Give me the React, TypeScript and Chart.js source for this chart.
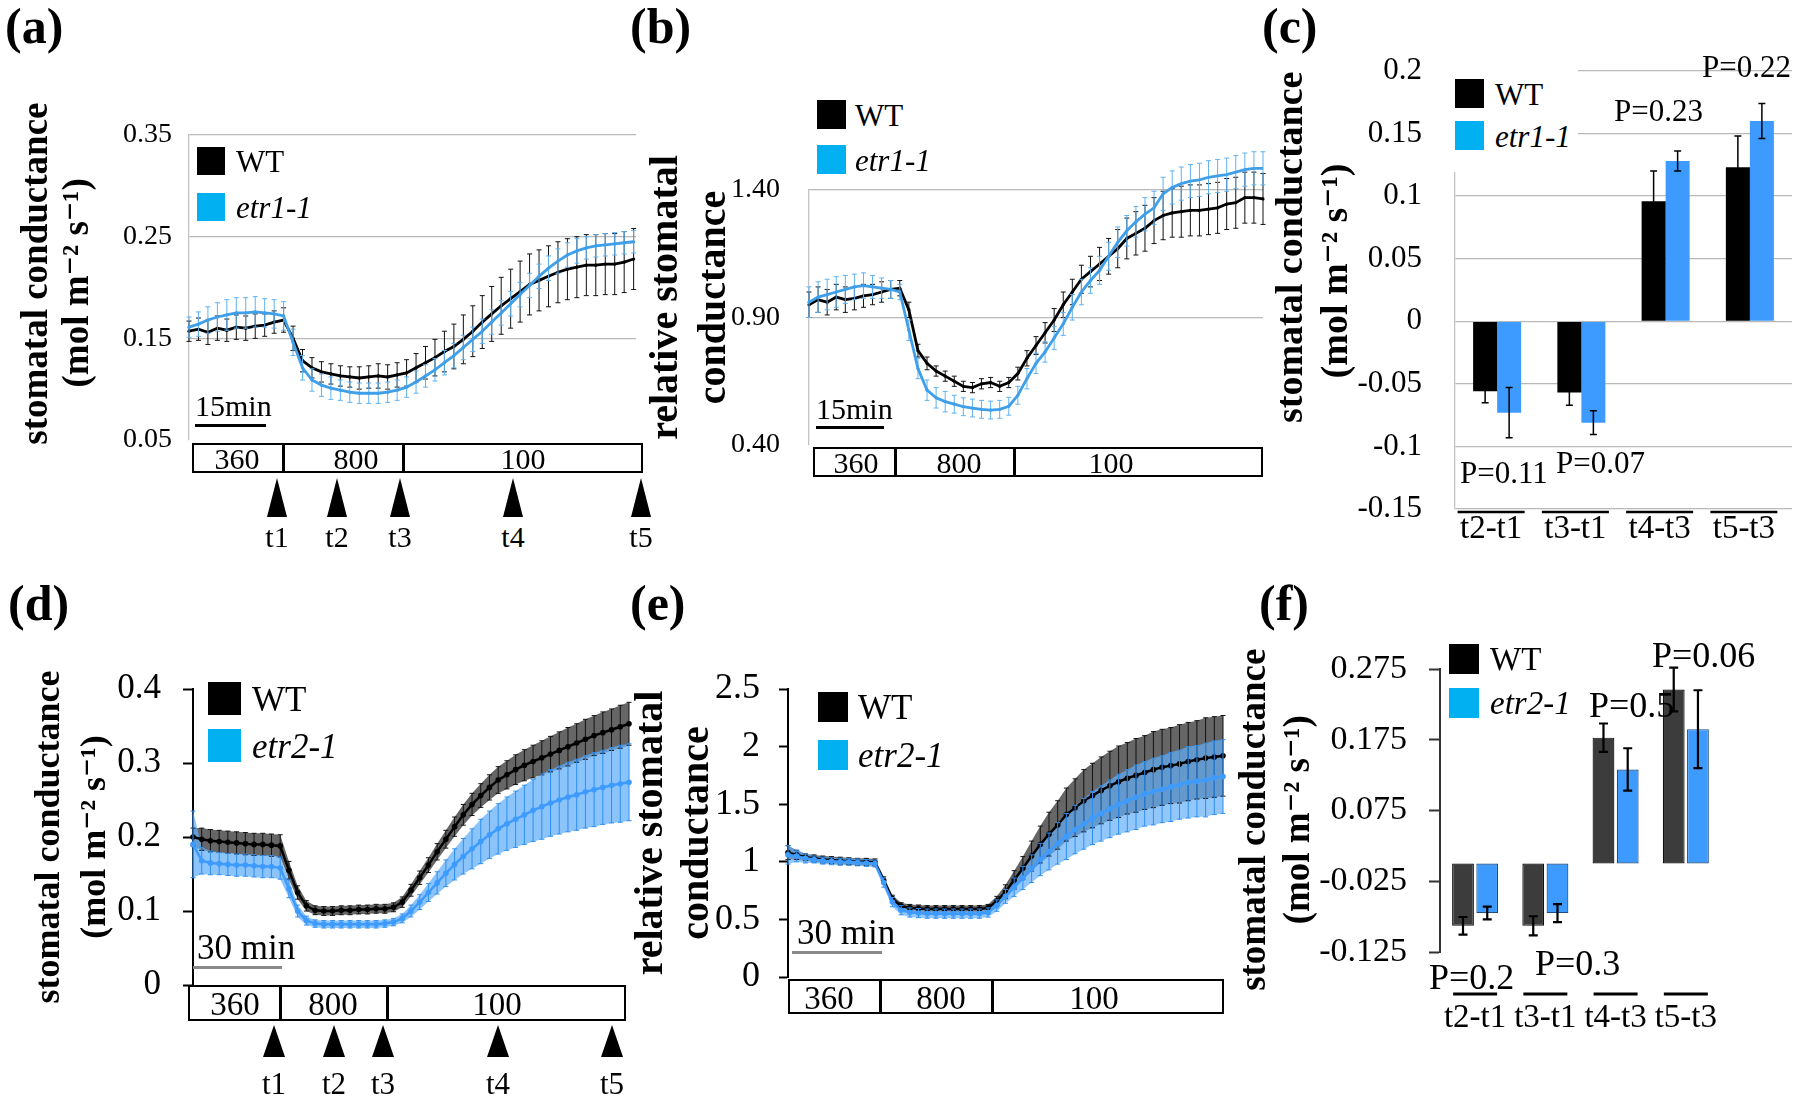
import React, { useEffect, useRef } from 'react';
import { Chart, registerables } from 'chart.js';

Chart.register(...registerables);

const SERIF = '"Liberation Serif", "Times New Roman", Times, "DejaVu Serif", serif';
Chart.defaults.font.family = SERIF;
Chart.defaults.color = '#000';

// ---------------- data ----------------
const GENOTYPES_1 = ['WT', 'etr1-1'];
const GENOTYPES_2 = ['WT', 'etr2-1'];
const REGIMES = ['360', '800', '100'];
const TIMEPOINTS = ['t1', 't2', 't3', 't4', 't5'];
const CATEGORIES = ['t2-t1', 't3-t1', 't4-t3', 't5-t3'];

// (a) stomatal conductance, minutes
const TIME_A = [0, 2, 4, 6, 8, 10, 12, 14, 16, 18, 20, 22, 24, 26, 28, 30, 32, 34, 36, 38, 40, 42, 44, 46, 48, 50, 52, 54, 56, 58, 60, 62, 64, 66, 68, 70, 72, 74, 76, 78, 80, 82, 84, 86, 88, 90, 92, 94];
const WT_A = [0.157, 0.159, 0.156, 0.160, 0.158, 0.161, 0.160, 0.162, 0.163, 0.166, 0.168, 0.150, 0.128, 0.121, 0.117, 0.115, 0.113, 0.112, 0.111, 0.112, 0.113, 0.112, 0.114, 0.116, 0.121, 0.126, 0.131, 0.137, 0.142, 0.149, 0.157, 0.166, 0.174, 0.182, 0.189, 0.196, 0.203, 0.207, 0.211, 0.215, 0.218, 0.220, 0.222, 0.222, 0.223, 0.223, 0.225, 0.228];
const WT_A_ERR = [0.010, 0.011, 0.012, 0.012, 0.011, 0.012, 0.012, 0.012, 0.011, 0.011, 0.012, 0.012, 0.011, 0.010, 0.010, 0.010, 0.010, 0.010, 0.011, 0.011, 0.012, 0.012, 0.012, 0.013, 0.014, 0.016, 0.018, 0.020, 0.022, 0.024, 0.025, 0.026, 0.027, 0.028, 0.029, 0.030, 0.030, 0.030, 0.030, 0.030, 0.030, 0.030, 0.030, 0.030, 0.030, 0.030, 0.030, 0.030];
const ETR_A = [0.161, 0.164, 0.168, 0.171, 0.173, 0.175, 0.175, 0.176, 0.175, 0.174, 0.172, 0.146, 0.121, 0.109, 0.104, 0.101, 0.099, 0.097, 0.096, 0.096, 0.096, 0.097, 0.099, 0.102, 0.107, 0.113, 0.119, 0.126, 0.133, 0.141, 0.149, 0.157, 0.166, 0.175, 0.184, 0.193, 0.202, 0.211, 0.219, 0.226, 0.232, 0.236, 0.239, 0.241, 0.242, 0.243, 0.244, 0.245];
const ETR_A_ERR = [0.010, 0.012, 0.013, 0.014, 0.015, 0.015, 0.015, 0.015, 0.014, 0.014, 0.014, 0.013, 0.012, 0.011, 0.011, 0.011, 0.010, 0.010, 0.010, 0.010, 0.010, 0.010, 0.010, 0.010, 0.011, 0.011, 0.011, 0.012, 0.012, 0.012, 0.012, 0.012, 0.012, 0.012, 0.012, 0.012, 0.012, 0.012, 0.012, 0.012, 0.012, 0.012, 0.011, 0.011, 0.011, 0.011, 0.011, 0.011];

// (b) relative stomatal conductance
const TIME_B = [0, 2, 4, 6, 8, 10, 12, 14, 16, 18, 20, 22, 24, 26, 28, 30, 32, 34, 36, 38, 40, 42, 44, 46, 48, 50, 52, 54, 56, 58, 60, 62, 64, 66, 68, 70, 72, 74, 76, 78, 80, 82, 84, 86, 88, 90, 92, 94, 96, 98, 100];
const WT_B = [0.95, 0.97, 0.96, 0.98, 0.97, 0.975, 0.985, 0.99, 1.0, 1.01, 1.015, 0.93, 0.77, 0.72, 0.69, 0.67, 0.65, 0.63, 0.625, 0.64, 0.645, 0.63, 0.645, 0.68, 0.74, 0.79, 0.84, 0.89, 0.95, 1.0, 1.05, 1.08, 1.11, 1.14, 1.17, 1.21, 1.23, 1.25, 1.28, 1.30, 1.31, 1.315, 1.32, 1.32, 1.325, 1.33, 1.345, 1.35, 1.37, 1.37, 1.365];
const WT_B_ERR = [0.05, 0.05, 0.05, 0.05, 0.05, 0.045, 0.045, 0.04, 0.04, 0.035, 0.03, 0.03, 0.025, 0.025, 0.02, 0.02, 0.02, 0.02, 0.02, 0.02, 0.02, 0.02, 0.02, 0.025, 0.03, 0.035, 0.04, 0.045, 0.05, 0.05, 0.055, 0.06, 0.065, 0.07, 0.075, 0.08, 0.085, 0.09, 0.09, 0.095, 0.095, 0.1, 0.1, 0.1, 0.1, 0.1, 0.1, 0.1, 0.1, 0.1, 0.1];
const ETR_B = [0.96, 0.98, 0.99, 1.0, 1.01, 1.02, 1.025, 1.02, 1.015, 1.01, 1.0, 0.85, 0.70, 0.615, 0.585, 0.57, 0.56, 0.55, 0.545, 0.54, 0.537, 0.54, 0.552, 0.595, 0.66, 0.72, 0.765, 0.82, 0.875, 0.94, 1.0, 1.045, 1.085, 1.14, 1.195, 1.24, 1.275, 1.305, 1.33, 1.385, 1.41, 1.425, 1.435, 1.44, 1.45, 1.455, 1.46, 1.47, 1.48, 1.485, 1.485];
const ETR_B_ERR = [0.06, 0.06, 0.06, 0.06, 0.055, 0.05, 0.05, 0.045, 0.04, 0.035, 0.03, 0.04, 0.04, 0.04, 0.04, 0.04, 0.035, 0.035, 0.035, 0.035, 0.035, 0.035, 0.035, 0.035, 0.04, 0.04, 0.04, 0.045, 0.045, 0.05, 0.05, 0.05, 0.055, 0.055, 0.06, 0.06, 0.06, 0.065, 0.065, 0.065, 0.065, 0.065, 0.065, 0.065, 0.065, 0.065, 0.065, 0.065, 0.065, 0.065, 0.065];

// (c) differences, etr1-1
const WT_C = [-0.056, -0.057, 0.096, 0.123];
const WT_C_ERR = [0.009, 0.010, 0.024, 0.025];
const ETR_C = [-0.073, -0.081, 0.128, 0.160];
const ETR_C_ERR = [0.020, 0.0095, 0.008, 0.014];
const P_C = ['P=0.11', 'P=0.07', 'P=0.23', 'P=0.22'];

// (d) and (e) share the time base (minutes)
const TIME_DE = [0, 3, 6, 9, 12, 15, 18, 21, 24, 27, 30, 33, 36, 39, 42, 45, 48, 51, 54, 57, 60, 63, 66, 69, 72, 75, 78, 81, 84, 87, 90, 93, 96, 99, 102, 105, 108, 111, 114, 117, 120, 123, 126, 129, 132, 135, 138, 141, 144, 147, 150];
const WT_D = [0.2, 0.197, 0.195, 0.194, 0.193, 0.192, 0.191, 0.19, 0.19, 0.189, 0.188, 0.155, 0.125, 0.107, 0.101, 0.1, 0.1, 0.101, 0.101, 0.102, 0.102, 0.103, 0.103, 0.105, 0.112, 0.128, 0.145, 0.162, 0.18, 0.197, 0.214, 0.23, 0.244, 0.256, 0.267, 0.277, 0.284, 0.291, 0.297, 0.302, 0.307, 0.312, 0.317, 0.322, 0.327, 0.332, 0.337, 0.341, 0.345, 0.349, 0.353];
const WT_D_ERR = [0.012, 0.015, 0.015, 0.015, 0.015, 0.015, 0.015, 0.015, 0.015, 0.015, 0.015, 0.012, 0.009, 0.007, 0.006, 0.006, 0.006, 0.006, 0.006, 0.006, 0.006, 0.006, 0.006, 0.006, 0.007, 0.008, 0.009, 0.01, 0.011, 0.012, 0.013, 0.014, 0.015, 0.016, 0.017, 0.018, 0.019, 0.02, 0.021, 0.022, 0.023, 0.024, 0.025, 0.026, 0.026, 0.027, 0.027, 0.028, 0.028, 0.029, 0.029];
const ETR_D = [0.19, 0.168, 0.165, 0.164, 0.163, 0.162, 0.162, 0.161, 0.16, 0.16, 0.158, 0.13, 0.1, 0.087, 0.083, 0.082, 0.082, 0.082, 0.082, 0.082, 0.082, 0.082, 0.083, 0.085, 0.09, 0.1, 0.112, 0.125, 0.138, 0.151, 0.163, 0.174, 0.184, 0.194, 0.203, 0.211, 0.218, 0.224, 0.23, 0.236, 0.241, 0.246, 0.25, 0.254, 0.257, 0.261, 0.264, 0.267, 0.27, 0.272, 0.274];
const ETR_D_ERR = [0.045, 0.018, 0.016, 0.015, 0.015, 0.015, 0.015, 0.015, 0.015, 0.015, 0.015, 0.012, 0.008, 0.006, 0.005, 0.005, 0.005, 0.005, 0.005, 0.005, 0.005, 0.005, 0.005, 0.005, 0.006, 0.008, 0.01, 0.012, 0.015, 0.018, 0.021, 0.024, 0.027, 0.03, 0.032, 0.034, 0.036, 0.038, 0.04, 0.042, 0.044, 0.045, 0.046, 0.047, 0.048, 0.049, 0.05, 0.05, 0.051, 0.052, 0.052];

const WT_E = [1.08, 1.06, 1.04, 1.03, 1.02, 1.015, 1.01, 1.005, 1.0, 1.0, 0.995, 0.84, 0.68, 0.615, 0.6, 0.595, 0.59, 0.59, 0.59, 0.59, 0.59, 0.59, 0.59, 0.6, 0.66, 0.74, 0.843, 0.945, 1.05, 1.15, 1.24, 1.32, 1.41, 1.47, 1.53, 1.575, 1.62, 1.66, 1.695, 1.725, 1.75, 1.775, 1.8, 1.82, 1.835, 1.85, 1.87, 1.885, 1.9, 1.91, 1.92];
const WT_E_ERR = [0.06, 0.04, 0.03, 0.03, 0.03, 0.03, 0.03, 0.03, 0.03, 0.03, 0.03, 0.03, 0.03, 0.03, 0.03, 0.03, 0.03, 0.03, 0.03, 0.03, 0.03, 0.03, 0.03, 0.03, 0.04, 0.06, 0.08, 0.1, 0.13, 0.16, 0.19, 0.21, 0.23, 0.25, 0.27, 0.28, 0.29, 0.3, 0.31, 0.31, 0.32, 0.32, 0.33, 0.33, 0.33, 0.34, 0.34, 0.34, 0.35, 0.35, 0.35];
const ETR_E = [1.06, 1.05, 1.03, 1.02, 1.01, 1.005, 1.0, 1.0, 0.995, 0.99, 0.985, 0.82, 0.65, 0.58, 0.56, 0.555, 0.55, 0.55, 0.55, 0.55, 0.55, 0.55, 0.55, 0.56, 0.62, 0.7, 0.78, 0.86, 0.94, 1.02, 1.09, 1.16, 1.22, 1.28, 1.33, 1.38, 1.42, 1.46, 1.5, 1.53, 1.56, 1.59, 1.61, 1.63, 1.65, 1.67, 1.69, 1.7, 1.71, 1.73, 1.74];
const ETR_E_ERR = [0.08, 0.05, 0.04, 0.03, 0.03, 0.03, 0.03, 0.03, 0.03, 0.03, 0.03, 0.04, 0.04, 0.04, 0.04, 0.04, 0.04, 0.04, 0.04, 0.04, 0.04, 0.04, 0.04, 0.04, 0.05, 0.06, 0.08, 0.1, 0.12, 0.14, 0.16, 0.18, 0.2, 0.21, 0.22, 0.23, 0.24, 0.25, 0.26, 0.27, 0.28, 0.28, 0.29, 0.29, 0.3, 0.3, 0.31, 0.31, 0.32, 0.32, 0.32];

// (f) differences, etr2-1
const WT_F = [-0.088, -0.088, 0.178, 0.246];
const WT_F_ERR = [0.0125, 0.0135, 0.02, 0.031];
const ETR_F = [-0.070, -0.070, 0.133, 0.190];
const ETR_F_ERR = [0.009, 0.0128, 0.03, 0.055];
const P_F = ['P=0.2', 'P=0.3', 'P=0.5', 'P=0.06'];

// ---------------- styles ----------------
const GRID = '#b9b9b9';
const AXIS_GRAY = '#c4c4c4';
const LEGEND_BLUE = '#00b0f0';
const LINE_BLUE = '#3f9fe9';
const ERR_BLUE = '#5fb2f2';
const BLUE2 = '#3d9bff';
const UNITS = '(mol m\u207B\u00B2 s\u207B\u00B9)';

// ---------------- plugins ----------------
function drawErr(chart: any, index: number, opts: any) {
  const ds = chart.data.datasets[index];
  const errs = ds.errors;
  if (!errs) return;
  const meta = chart.getDatasetMeta(index);
  const ys = chart.scales[meta.yAxisID];
  const ctx = chart.ctx;
  const cap = opts && opts.cap != null ? opts.cap : 3;
  ctx.save();
  ctx.strokeStyle = ds.errorColor || '#000';
  ctx.lineWidth = ds.errorWidth || 1;
  meta.data.forEach((el: any, j: number) => {
    const raw = ds.data[j];
    const v = typeof raw === 'number' ? raw : raw.y;
    const e = errs[j];
    const x = el.x;
    const y1 = ys.getPixelForValue(v + e);
    const y2 = ys.getPixelForValue(v - e);
    ctx.beginPath();
    ctx.moveTo(x, y1);
    ctx.lineTo(x, y2);
    ctx.moveTo(x - cap, y1);
    ctx.lineTo(x + cap, y1);
    ctx.moveTo(x - cap, y2);
    ctx.lineTo(x + cap, y2);
    ctx.stroke();
  });
  ctx.restore();
}

const errorBarPlugin: any = {
  id: 'errorBars',
  beforeDatasetDraw(chart: any, args: any, opts: any) {
    if (opts && opts.when === 'before') drawErr(chart, args.index, opts);
  },
  afterDatasetDraw(chart: any, args: any, opts: any) {
    if (!opts || opts.when !== 'before') drawErr(chart, args.index, opts);
  },
};

const catLinePlugin: any = {
  id: 'catLines',
  afterDraw(chart: any, _args: any, opts: any) {
    if (!opts || !opts.width) return;
    const xs = chart.scales.x;
    const ctx = chart.ctx;
    const y = chart.chartArea.bottom + opts.dy;
    ctx.save();
    ctx.strokeStyle = opts.color || '#000';
    ctx.lineWidth = opts.thickness || 2;
    xs.ticks.forEach((_t: any, i: number) => {
      const cx = xs.getPixelForTick(i) + (opts.dx || 0);
      ctx.beginPath();
      ctx.moveTo(cx - opts.width / 2, y);
      ctx.lineTo(cx + opts.width / 2, y);
      ctx.stroke();
    });
    ctx.restore();
  },
};

// ---------------- config builders ----------------
const pts = (time: number[], vals: number[]) => vals.map((v, i) => ({ x: time[i], y: v }));

// canvas box + padding so that the plot area lands exactly on `area`
function layoutFor(s: any) {
  const pv = Math.ceil(s.tickSize * 0.6 + s.tickPad) + 1;
  const x = s.area.l - s.yw;
  const w = s.area.r + s.padR - x;
  if (s.xh) {
    return {
      box: { x, y: s.area.t - pv, w, h: s.area.b - s.area.t + pv + s.xh + 5 },
      pad: { top: pv, bottom: 5, left: 0, right: s.padR },
    };
  }
  return {
    box: { x, y: s.area.t - pv, w, h: s.area.b - s.area.t + 2 * pv },
    pad: { top: pv, bottom: pv, left: 0, right: s.padR },
  };
}

function yScale(s: any) {
  const excel = s.excel;
  return {
    type: 'linear',
    min: s.yMin,
    max: s.yMax,
    afterFit: (sc: any) => {
      sc.width = s.yw;
    },
    ticks: {
      stepSize: s.step,
      callback: s.fmt,
      font: { family: SERIF, size: s.tickSize },
      color: '#000',
      padding: s.tickPad,
      autoSkip: false,
    },
    grid: excel
      ? {
          color: (c: any) => (s.hideFirst && c.index === 0 ? 'rgba(0,0,0,0)' : GRID),
          lineWidth: 1.3,
          drawTicks: false,
        }
      : {
          drawOnChartArea: false,
          drawTicks: true,
          tickLength: s.tickLen,
          tickColor: s.axisColor,
          tickWidth: 2,
          color: s.axisColor,
        },
    border: excel ? { display: true, color: AXIS_GRAY, width: 1.3 } : { display: true, color: s.axisColor, width: 2 },
    title: {
      display: true,
      text: s.title,
      color: '#000',
      font: { family: SERIF, size: s.titleSize, weight: 'bold', lineHeight: s.titleLH },
      padding: { top: s.titlePad, bottom: 0 },
    },
  };
}

function lineConfig(s: any, pad: any) {
  const datasets: any[] = [
    {
      label: s.mutLabel,
      data: pts(s.time, s.mut),
      errors: s.mutErr,
      errorColor: s.mutErrColor,
      errorWidth: 1,
      borderColor: s.mutColor,
      backgroundColor: s.mutColor,
      borderWidth: s.lineW,
      pointRadius: s.pointR,
      pointBorderWidth: 0,
      clip: false,
    },
    {
      label: 'WT',
      data: pts(s.time, s.wt),
      errors: s.wtErr,
      errorColor: '#111',
      errorWidth: 1,
      borderColor: '#000',
      backgroundColor: '#000',
      borderWidth: s.lineW,
      pointRadius: s.pointR,
      pointBorderWidth: 0,
      clip: false,
    },
  ];
  if (s.bands) {
    const band = (vals: number[], errs: number[], sign: number) => pts(s.time, vals.map((v, i) => v + sign * errs[i]));
    const hidden = { borderColor: 'rgba(0,0,0,0)', borderWidth: 0, pointRadius: 0 };
    datasets.push(
      { label: s.mutLabel + ' +SE', data: band(s.mut, s.mutErr, 1), fill: '+1', backgroundColor: s.bands.mut, ...hidden },
      { label: s.mutLabel + ' -SE', data: band(s.mut, s.mutErr, -1), fill: false, backgroundColor: 'rgba(0,0,0,0)', ...hidden },
      { label: 'WT +SE', data: band(s.wt, s.wtErr, 1), fill: '+1', backgroundColor: s.bands.wt, ...hidden },
      { label: 'WT -SE', data: band(s.wt, s.wtErr, -1), fill: false, backgroundColor: 'rgba(0,0,0,0)', ...hidden }
    );
  }
  return {
    type: 'line',
    data: { datasets },
    options: {
      animation: false,
      responsive: false,
      maintainAspectRatio: false,
      events: [],
      layout: { padding: pad },
      elements: { line: { tension: 0 } },
      plugins: {
        legend: { display: false },
        tooltip: { enabled: false },
        errorBars: { when: 'before', cap: s.cap },
      },
      scales: {
        x: { type: 'linear', min: 0, max: s.xMax, display: false },
        y: yScale(s),
      },
    },
    plugins: [errorBarPlugin],
  };
}

function barConfig(s: any, pad: any) {
  const common = { categoryPercentage: s.catPct, barPercentage: s.barPct, borderSkipped: false, borderWidth: s.borderW, errorWidth: s.errW, errorColor: '#000' };
  return {
    type: 'bar',
    data: {
      labels: CATEGORIES,
      datasets: [
        { label: 'WT', data: s.wt, errors: s.wtErr, backgroundColor: s.wtColor, borderColor: s.wtBorder, ...common },
        { label: s.mutLabel, data: s.mut, errors: s.mutErr, backgroundColor: s.mutColor, borderColor: s.mutBorder, ...common },
      ],
    },
    options: {
      animation: false,
      responsive: false,
      maintainAspectRatio: false,
      events: [],
      layout: { padding: pad },
      plugins: {
        legend: { display: false },
        tooltip: { enabled: false },
        errorBars: { when: 'after', cap: s.cap },
        catLines: s.catLines,
      },
      scales: {
        x: {
          type: 'category',
          afterFit: (sc: any) => {
            sc.height = s.xh;
          },
          grid: { display: false, drawTicks: false },
          border: { display: false },
          ticks: {
            font: { family: SERIF, size: s.xTickSize },
            color: '#000',
            padding: s.xTickPad,
            labelOffset: s.labelOffset || 0,
            maxRotation: 0,
            autoSkip: false,
          },
        },
        y: yScale(s),
      },
    },
    plugins: [errorBarPlugin, catLinePlugin],
  };
}

const fmt2 = (v: any) => Number(v).toFixed(2);
const fmtShort = (v: any) => String(+Number(v).toFixed(2));
const fmt1 = (v: any) => String(+Number(v).toFixed(1));
const fmt3 = (v: any) => Number(v).toFixed(3);

// ---------------- panel specs ----------------
const SPECS: any[] = [
  {
    kind: 'line',
    area: { l: 189, t: 135, r: 636, b: 440 }, yw: 179, padR: 4,
    time: TIME_A, wt: WT_A, wtErr: WT_A_ERR, mut: ETR_A, mutErr: ETR_A_ERR, mutLabel: GENOTYPES_1[1],
    mutColor: LINE_BLUE, mutErrColor: ERR_BLUE, lineW: 2.8, pointR: 1.6, cap: 2.5,
    xMax: 94.5, yMin: 0.05, yMax: 0.35, step: 0.1, fmt: fmt2, excel: true, hideFirst: true,
    tickSize: 28, tickPad: 17,
    title: ['   stomatal conductance', ' ' + UNITS], titleSize: 37, titleLH: 1.1, titlePad: 7,
  },
  {
    kind: 'line',
    area: { l: 809, t: 190, r: 1263, b: 445 }, yw: 179, padR: 5,
    time: TIME_B, wt: WT_B, wtErr: WT_B_ERR, mut: ETR_B, mutErr: ETR_B_ERR, mutLabel: GENOTYPES_1[1],
    mutColor: LINE_BLUE, mutErrColor: ERR_BLUE, lineW: 2.8, pointR: 1.6, cap: 2.5,
    xMax: 100, yMin: 0.4, yMax: 1.4, step: 0.5, fmt: fmt2, excel: true, hideFirst: true,
    tickSize: 28, tickPad: 29,
    title: ['    relative stomatal', '    conductance'], titleSize: 40, titleLH: 1.2, titlePad: 13,
  },
  {
    kind: 'bar',
    area: { l: 1455, t: 71, r: 1792, b: 509 }, yw: 190, padR: 6, xh: 50,
    wt: WT_C, wtErr: WT_C_ERR, mut: ETR_C, mutErr: ETR_C_ERR, mutLabel: GENOTYPES_1[1],
    wtColor: '#000000', wtBorder: '#000000', mutColor: BLUE2, mutBorder: BLUE2, borderW: 0, errW: 1.5, cap: 3.5,
    catPct: 0.57, barPct: 1.0,
    yMin: -0.15, yMax: 0.2, step: 0.05, fmt: fmtShort, excel: true, hideFirst: false,
    tickSize: 31, tickPad: 33, xTickSize: 33, xTickPad: 1, labelOffset: -6,
    catLines: { width: 67, dy: 3, dx: -6, thickness: 2.5, color: '#000' },
    title: ['         stomatal conductance', '    ' + UNITS], titleSize: 38, titleLH: 1.2, titlePad: 4,
  },
  {
    kind: 'line',
    area: { l: 193, t: 689, r: 629, b: 985 }, yw: 178, padR: 6,
    time: TIME_DE, wt: WT_D, wtErr: WT_D_ERR, mut: ETR_D, mutErr: ETR_D_ERR, mutLabel: GENOTYPES_2[1],
    mutColor: BLUE2, mutErrColor: '#2e8ef0', lineW: 2.5, pointR: 2.8, cap: 2.5,
    bands: { wt: 'rgba(75,75,75,0.85)', mut: 'rgba(100,175,250,0.75)' },
    xMax: 150, yMin: 0, yMax: 0.4, step: 0.1, fmt: fmt1, excel: false, axisColor: '#000', tickLen: 10,
    tickSize: 35, tickPad: 22,
    title: ['stomatal conductance', UNITS], titleSize: 36, titleLH: 1.3, titlePad: 11,
  },
  {
    kind: 'line',
    area: { l: 788, t: 689, r: 1223, b: 977 }, yw: 168, padR: 7,
    time: TIME_DE, wt: WT_E, wtErr: WT_E_ERR, mut: ETR_E, mutErr: ETR_E_ERR, mutLabel: GENOTYPES_2[1],
    mutColor: BLUE2, mutErrColor: '#2e8ef0', lineW: 2.5, pointR: 2.8, cap: 2.5,
    bands: { wt: 'rgba(75,75,75,0.85)', mut: 'rgba(100,175,250,0.7)' },
    xMax: 150, yMin: 0, yMax: 2.5, step: 0.5, fmt: fmt1, excel: false, axisColor: '#000', tickLen: 9,
    tickSize: 36, tickPad: 19,
    title: ['relative stomatal', 'conductance'], titleSize: 40, titleLH: 1.15, titlePad: 9,
  },
  {
    kind: 'bar',
    area: { l: 1440, t: 669, r: 1757, b: 952 }, yw: 218, padR: 8, xh: 75,
    wt: WT_F, wtErr: WT_F_ERR, mut: ETR_F, mutErr: ETR_F_ERR, mutLabel: GENOTYPES_2[1],
    wtColor: '#3c3c3c', wtBorder: '#111111', mutColor: BLUE2, mutBorder: '#1d4e82', borderW: 1.2, errW: 2.2, cap: 4.5,
    catPct: 0.69, barPct: 0.9,
    yMin: -0.125, yMax: 0.275, step: 0.1, fmt: fmt3, excel: false, axisColor: '#333', tickLen: 11,
    tickSize: 34, tickPad: 22, xTickSize: 33, xTickPad: 47, labelOffset: 0,
    catLines: { width: 44, dy: 42, dx: 0, thickness: 3, color: '#000' },
    title: ['stomatal conductance  ', UNITS + '  '], titleSize: 37, titleLH: 1.2, titlePad: 11,
  },
];

const PANELS = SPECS.map((s) => {
  const { box, pad } = layoutFor(s);
  return { box, make: () => (s.kind === 'bar' ? barConfig(s, pad) : lineConfig(s, pad)) };
});

// ---------------- components ----------------
function ChartCanvas({ box, make }: any) {
  const ref = useRef<HTMLCanvasElement | null>(null);
  useEffect(() => {
    if (!ref.current) return;
    const chart = new Chart(ref.current, make());
    return () => chart.destroy();
  }, []);
  return (
    <canvas
      ref={ref}
      width={box.w}
      height={box.h}
      style={{ position: 'absolute', left: box.x, top: box.y, width: box.w, height: box.h }}
    />
  );
}

function Txt({ x, y, size, bold, italic, center, children }: any) {
  return (
    <div
      style={{
        position: 'absolute',
        left: x,
        top: y,
        transform: `translate(${center ? '-50%' : '0'}, -50%)`,
        fontFamily: SERIF,
        fontSize: size,
        fontWeight: bold ? 700 : 400,
        fontStyle: italic ? 'italic' : 'normal',
        lineHeight: 1,
        whiteSpace: 'pre',
        color: '#000',
      }}
    >
      {children}
    </div>
  );
}

function LightBox({ x1, x2, y1, y2, dividers, centers, size }: any) {
  return (
    <>
      <div
        style={{
          position: 'absolute', left: x1, top: y1, width: x2 - x1, height: y2 - y1,
          border: '2.5px solid #000', boxSizing: 'border-box', background: '#fff',
        }}
      />
      {dividers.map((d: number, i: number) => (
        <div key={'d' + i} style={{ position: 'absolute', left: d - 1, top: y1, width: 2.5, height: y2 - y1, background: '#000' }} />
      ))}
      {REGIMES.map((r, i) => (
        <Txt key={'r' + i} x={centers[i]} y={(y1 + y2) / 2 + 1} size={size} center>
          {r}
        </Txt>
      ))}
    </>
  );
}

function Arrows({ xs, top, h, w, labelY, size }: any) {
  return (
    <>
      {TIMEPOINTS.map((t, i) => (
        <React.Fragment key={t}>
          <div
            style={{
              position: 'absolute', left: xs[i] - w / 2, top, width: 0, height: 0,
              borderLeft: `${w / 2}px solid transparent`, borderRight: `${w / 2}px solid transparent`,
              borderBottom: `${h}px solid #000`,
            }}
          />
          <Txt x={xs[i]} y={labelY} size={size} center>
            {t}
          </Txt>
        </React.Fragment>
      ))}
    </>
  );
}

function Legend({ x, ys, sq, textX, size, labels }: any) {
  const colors = ['#000000', LEGEND_BLUE];
  return (
    <>
      {labels.map((l: string, i: number) => (
        <React.Fragment key={l}>
          <div style={{ position: 'absolute', left: x, top: ys[i], width: sq, height: sq, background: colors[i] }} />
          <Txt x={textX} y={ys[i] + sq / 2} size={size} italic={i === 1}>
            {l}
          </Txt>
        </React.Fragment>
      ))}
    </>
  );
}

function ScaleBar({ x1, x2, y, color, text, tx, ty, size }: any) {
  return (
    <>
      <div style={{ position: 'absolute', left: x1, top: y - 1, width: x2 - x1, height: 2.5, background: color }} />
      <Txt x={tx} y={ty} size={size}>
        {text}
      </Txt>
    </>
  );
}

export default function App() {
  return (
    <div style={{ position: 'absolute', left: 0, top: 0, width: 1800, height: 1097, background: '#fff', overflow: 'hidden' }}>
      {PANELS.map((p, i) => (
        <ChartCanvas key={i} box={p.box} make={p.make} />
      ))}

      {/* panel letters */}
      <Txt x={5} y={26} size={50} bold>(a)</Txt>
      <Txt x={630} y={26} size={50} bold>(b)</Txt>
      <Txt x={1262} y={26} size={50} bold>(c)</Txt>
      <Txt x={8} y={603} size={50} bold>(d)</Txt>
      <Txt x={630} y={603} size={50} bold>(e)</Txt>
      <Txt x={1259} y={603} size={50} bold>(f)</Txt>

      {/* (a) */}
      <Legend x={197} ys={[147, 193]} sq={28} textX={236} size={31} labels={GENOTYPES_1} />
      <ScaleBar x1={195} x2={266} y={425} color="#000" text="15min" tx={195} ty={406} size={30} />
      <LightBox x1={192} x2={643} y1={443} y2={473} dividers={[283, 403]} centers={[237, 356, 523]} size={30} />
      <Arrows xs={[277, 337, 400, 513, 641]} top={478} h={39} w={20} labelY={537} size={30} />

      {/* (b) */}
      <Legend x={817} ys={[100, 145]} sq={29} textX={855} size={31} labels={GENOTYPES_1} />
      <ScaleBar x1={816} x2={884} y={427} color="#000" text="15min" tx={816} ty={409} size={30} />
      <LightBox x1={813} x2={1263} y1={447} y2={477} dividers={[895, 1014]} centers={[856, 959, 1111]} size={30} />

      {/* (c) */}
      <div style={{ position: 'absolute', left: 1449, top: 60, width: 129, height: 112, background: '#fff' }} />
      <Legend x={1455} ys={[79, 121]} sq={29} textX={1495} size={31} labels={GENOTYPES_1} />
      <Txt x={1460} y={472} size={31}>{P_C[0]}</Txt>
      <Txt x={1556} y={462} size={31}>{P_C[1]}</Txt>
      <Txt x={1614} y={110} size={31}>{P_C[2]}</Txt>
      <Txt x={1702} y={66} size={31}>{P_C[3]}</Txt>

      {/* (d) */}
      <Legend x={208} ys={[682, 729]} sq={33} textX={252} size={35} labels={GENOTYPES_2} />
      <ScaleBar x1={193} x2={282} y={967} color="#8a8a8a" text="30 min" tx={197} ty={947} size={35} />
      <LightBox x1={188} x2={626} y1={985} y2={1021} dividers={[280, 387]} centers={[235, 333, 497]} size={33} />
      <Arrows xs={[274, 334, 383, 498, 612]} top={1025} h={32} w={22} labelY={1083} size={31} />

      {/* (e) */}
      <Legend x={818} ys={[692, 740]} sq={30} textX={858} size={35} labels={GENOTYPES_2} />
      <ScaleBar x1={792} x2={882} y={952} color="#8a8a8a" text="30 min" tx={797} ty={932} size={35} />
      <LightBox x1={788} x2={1224} y1={979} y2={1014} dividers={[880, 992]} centers={[829, 941, 1094]} size={33} />

      {/* (f) */}
      <Legend x={1449} ys={[644, 688]} sq={30} textX={1490} size={33} labels={GENOTYPES_2} />
      <Txt x={1429} y={977} size={36}>{P_F[0]}</Txt>
      <Txt x={1535} y={963} size={36}>{P_F[1]}</Txt>
      <Txt x={1589} y={705} size={36}>{P_F[2]}</Txt>
      <Txt x={1652} y={655} size={36}>{P_F[3]}</Txt>
    </div>
  );
}
